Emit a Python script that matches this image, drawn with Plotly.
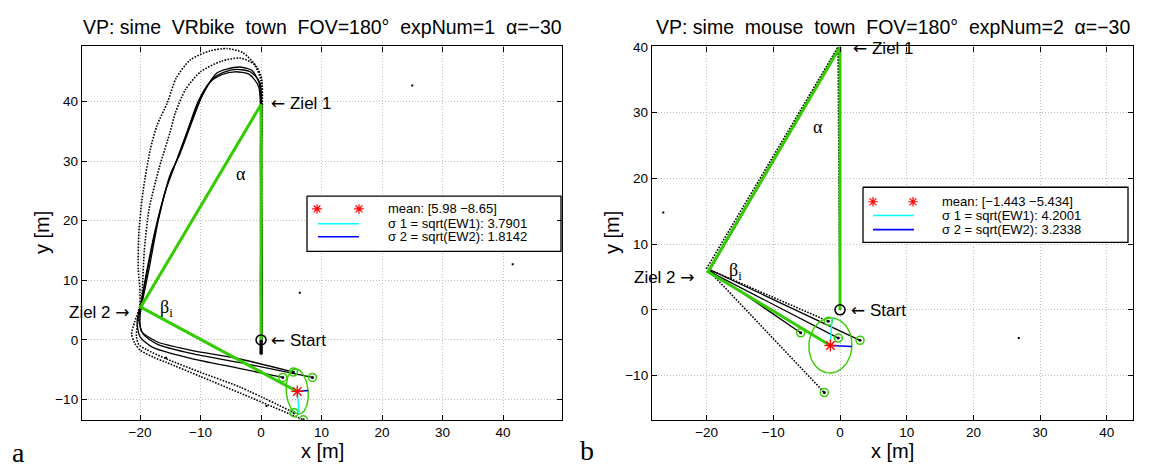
import numpy as np
import plotly.graph_objects as go

W, H = 1152, 467
SANS = "Liberation Sans, Arial, Helvetica, sans-serif"
SERIF = "Liberation Serif, Times New Roman, serif"
LARR = "<span style=\"font-family:'DejaVu Sans'\">←</span>"
RARR = "<span style=\"font-family:'DejaVu Sans'\">→</span>"

GREEN = "#33cc00"
CYAN = "#00ffff"
BLUE = "#0000ff"
RED = "#ff0000"

# ---------------- tick labels ----------------
x_tick_vals = [-20, -10, 0, 10, 20, 30, 40]
y_tick_vals = [-10, 0, 10, 20, 30, 40]

# ================= panel a : VRbike, expNum=1 =================
a_title = "VP: sime\u00a0 VRbike\u00a0 town\u00a0 FOV=180°\u00a0 expNum=1\u00a0 α=−30"
a_start = [0.0, 0.0]
a_ziel1 = [0.0, 39.5]
a_ziel2 = [-19.9, 5.5]
a_mean = [5.98, -8.65]
a_sigma = [3.7901, 1.8142]
a_cyan_angle = -85.0
a_blue_angle = 5.0
a_stub_x = [0.0, 0.0]
a_stub_y = [0.0, -2.4]
a_end_x = [3.6, 5.35, 8.5, 5.45, 7.0]
a_end_y = [-6.3, -5.4, -6.3, -12.2, -13.4]
a_dot_x = [6.4, 25.0, 41.6, -15.7, 0.9]
a_dot_y = [7.9, 42.7, 12.7, -3.0, -11.1]

a_t1_x = [0.0, 0.1, 0.0, 0.1, -0.7, -3.0, -5.6, -8.5, -11.7, -14.0, -15.5, -17.2, -18.3, -19.5, -20.2, -20.3,
          -20.0, -20.1, -20.9, -21.4, -20.9, -20.0, -17.8, -15.6, -10.1, -3.5, 7.0]
a_t1_y = [-2.4, 10.0, 30.0, 43.8, 45.8, 48.2, 48.9, 48.5, 47.0, 44.0, 39.8, 36.0, 32.0, 25.0, 18.0, 12.0,
          8.0, 5.5, 3.0, 1.0, -0.5, -1.7, -2.9, -3.8, -6.1, -8.9, -13.4]
a_t2_x = [0.15, 0.15, 0.1, 0.0, -1.2, -3.5, -6.5, -10.0, -12.5, -14.2, -15.0, -16.8, -18.5, -19.3, -19.6, -19.8,
          -20.4, -20.6, -20.2, -19.0, -15.6, -10.1, -3.5, 5.45]
a_t2_y = [-2.4, 10.0, 30.0, 43.5, 46.3, 47.3, 46.8, 45.0, 42.0, 38.0, 35.0, 29.0, 22.0, 15.0, 9.0, 5.8,
          2.8, 0.6, -0.8, -1.6, -3.2, -5.4, -7.9, -12.2]
a_t3_x = [0.0, -0.1, 0.1, -0.3, -1.5, -3.5, -5.5, -7.3, -9.5, -11.2, -13.5, -15.0, -17.0, -18.5, -19.5, -20.0,
          -19.8, -17.2, -11.7, -3.5, 5.35]
a_t3_y = [-2.4, 10.0, 30.0, 43.0, 45.2, 45.8, 45.5, 44.8, 41.5, 37.2, 31.0, 27.8, 20.0, 12.0, 7.0, 4.0,
          1.5, -0.3, -1.7, -3.2, -5.4]
a_t4_x = [0.1, 0.2, 0.0, -0.2, -1.8, -4.0, -6.2, -8.0, -10.0, -11.8, -13.8, -15.5, -17.3, -18.8, -19.7, -20.2,
          -19.5, -17.0, -11.0, -3.0, 8.5]
a_t4_y = [-2.4, 10.0, 30.0, 43.2, 45.0, 45.4, 44.9, 43.8, 40.5, 36.0, 30.5, 26.0, 19.0, 11.5, 6.5, 3.5,
          1.0, -0.8, -2.4, -3.9, -6.3]
a_t5_x = [-0.1, 0.0, -0.1, -0.4, -2.0, -4.3, -6.5, -8.5, -10.5, -12.2, -14.2, -15.8, -17.6, -19.0, -19.8, -20.5,
          -20.0, -18.0, -12.0, -4.0, 3.6]
a_t5_y = [-2.4, 10.0, 30.0, 42.5, 44.6, 45.0, 44.5, 43.2, 39.8, 35.0, 29.5, 25.0, 18.0, 11.0, 6.5, 3.0,
          0.5, -1.2, -3.0, -4.7, -6.3]
a_legend = ["mean: [5.98 −8.65]", "σ 1 = sqrt(EW1): 3.7901", "σ 2 = sqrt(EW2): 1.8142"]

# ================= panel b : mouse, expNum=2 =================
b_title = "VP: sime\u00a0 mouse\u00a0 town\u00a0 FOV=180°\u00a0 expNum=2\u00a0 α=−30"
b_start = [0.0, 0.0]
b_ziel1 = [0.0, 40.0]
b_ziel2 = [-19.8, 5.8]
b_mean = [-1.443, -5.434]
b_sigma = [4.2001, 3.2338]
b_cyan_angle = 87.0
b_blue_angle = -3.0
b_end_x = [-5.9, -1.75, -0.25, 3.0, -2.35]
b_end_y = [-3.5, -1.75, -4.3, -4.65, -12.6]
b_dot_x = [26.8, -26.5]
b_dot_y = [-4.3, 14.8]

b_t1_x = [0.0, 0.0, -19.6, -5.9]
b_t1_y = [0.0, 40.0, 6.0, -3.5]
b_t2_x = [0.0, -0.3, -20.0, -1.75]
b_t2_y = [0.0, 40.0, 6.3, -1.75]
b_t3_x = [0.0, 0.0, -19.7, -0.25]
b_t3_y = [0.0, 40.0, 5.9, -4.3]
b_t4_x = [0.0, 0.0, -19.5, 3.0]
b_t4_y = [0.0, 40.0, 6.1, -4.65]
b_t5_x = [0.0, -0.2, -19.7, -2.35]
b_t5_y = [0.0, 40.0, 6.0, -12.6]
b_legend = ["mean: [−1.443 −5.434]", "σ 1 = sqrt(EW1): 4.2001", "σ 2 = sqrt(EW2): 3.2338"]

# ---------------- layout geometry (pixels) ----------------
PANELS = {
    "a": dict(left=82, right=562, top=40, bottom=419, xr=[-29.6, 49.75], yr=[-13.39, 49.26],
              xa="x", ya="y"),
    "b": dict(left=652, right=1133, top=40, bottom=419, xr=[-28.19, 43.93], yr=[-16.73, 40.09],
              xa="x2", ya="y2"),
}


def px2x(p, px):
    g = PANELS[p]
    return g["xr"][0] + (px - g["left"]) / (g["right"] - g["left"]) * (g["xr"][1] - g["xr"][0])


def px2y(p, py):
    g = PANELS[p]
    return g["yr"][1] - (py - g["top"]) / (g["bottom"] - g["top"]) * (g["yr"][1] - g["yr"][0])


fig = go.Figure()


def add(p, **kw):
    g = PANELS[p]
    fig.add_trace(go.Scatter(xaxis=g["xa"], yaxis=g["ya"], showlegend=False, hoverinfo="skip", **kw))


def traj(p, xs, ys, dotted, shape):
    add(p, x=xs, y=ys, mode="lines",
        line=dict(color="black", width=1.6 if dotted else 1.3,
                  dash="1.6px,1.4px" if dotted else "solid", shape=shape,
                  smoothing=0.7 if shape == "spline" else None))


def ellipse_and_axes(p, mean, sigma, cyan_angle, blue_angle):
    t = np.linspace(0, 2 * np.pi, 200)
    phi = np.deg2rad(blue_angle)
    ex = mean[0] + sigma[1] * np.cos(t) * np.cos(phi) - sigma[0] * np.sin(t) * np.sin(phi)
    ey = mean[1] + sigma[1] * np.cos(t) * np.sin(phi) + sigma[0] * np.sin(t) * np.cos(phi)
    add(p, x=ex, y=ey, mode="lines", line=dict(color=GREEN, width=1.4))
    ca = np.deg2rad(cyan_angle)
    add(p, x=[mean[0], mean[0] + sigma[0] * np.cos(ca)], y=[mean[1], mean[1] + sigma[0] * np.sin(ca)],
        mode="lines", line=dict(color=CYAN, width=1.5))
    add(p, x=[mean[0], mean[0] + sigma[1] * np.cos(phi)], y=[mean[1], mean[1] + sigma[1] * np.sin(phi)],
        mode="lines", line=dict(color=BLUE, width=1.5))


def common(p, start, ziel1, ziel2, mean, sigma, cyan_angle, blue_angle, end_x, end_y, dot_x, dot_y):
    add(p, x=[start[0], ziel1[0], ziel2[0], mean[0]], y=[start[1], ziel1[1], ziel2[1], mean[1]],
        mode="lines", line=dict(color=GREEN, width=3))
    add(p, x=end_x, y=end_y, mode="markers",
        marker=dict(symbol="circle-open", size=8, color=GREEN, line=dict(color=GREEN, width=1.5)))
    add(p, x=end_x, y=end_y, mode="markers", marker=dict(symbol="circle", size=3, color="black"))
    ellipse_and_axes(p, mean, sigma, cyan_angle, blue_angle)
    add(p, x=[mean[0]], y=[mean[1]], mode="markers",
        marker=dict(symbol="asterisk-open", size=10, color=RED, line=dict(color=RED, width=1.3)))
    add(p, x=[start[0]], y=[start[1]], mode="markers",
        marker=dict(symbol="circle-open", size=10, color="black", line=dict(color="black", width=1.6)))
    add(p, x=dot_x, y=dot_y, mode="markers", marker=dict(symbol="square", size=2, color="black"))


def legend(p, box, ast_x, line_x, rows_y, text_x, texts):
    x0, y0, x1, y1 = box
    add(p, x=[px2x(p, x0), px2x(p, x1), px2x(p, x1), px2x(p, x0), px2x(p, x0)],
        y=[px2y(p, y0), px2y(p, y0), px2y(p, y1), px2y(p, y1), px2y(p, y0)],
        mode="lines", fill="toself", fillcolor="white", line=dict(color="black", width=1.3))
    add(p, x=[px2x(p, v) for v in ast_x], y=[px2y(p, rows_y[0])] * 2, mode="markers",
        marker=dict(symbol="asterisk-open", size=8, color=RED, line=dict(color=RED, width=1.2)))
    add(p, x=[px2x(p, v) for v in line_x], y=[px2y(p, rows_y[1])] * 2, mode="lines",
        line=dict(color=CYAN, width=1.6))
    add(p, x=[px2x(p, v) for v in line_x], y=[px2y(p, rows_y[2])] * 2, mode="lines",
        line=dict(color=BLUE, width=1.6))
    for ty, txt in zip(rows_y, texts):
        fig.add_annotation(xref="paper", yref="paper", x=text_x / W, y=1 - ty / H, text=txt,
                           xanchor="left", yanchor="middle", showarrow=False,
                           font=dict(family=SANS, size=13, color="black"))


# ---- panel a ----
for xs, ys, dotted in [(a_t1_x, a_t1_y, True), (a_t2_x, a_t2_y, True), (a_t3_x, a_t3_y, False),
                       (a_t4_x, a_t4_y, False), (a_t5_x, a_t5_y, False)]:
    traj("a", xs, ys, dotted, "spline")
add("a", x=a_stub_x, y=a_stub_y, mode="lines", line=dict(color="black", width=3))
common("a", a_start, a_ziel1, a_ziel2, a_mean, a_sigma, a_cyan_angle, a_blue_angle,
       a_end_x, a_end_y, a_dot_x, a_dot_y)
legend("a", (307, 192, 561, 248), (317, 359), (318, 359), (205, 220, 233.3), 386, a_legend)

# ---- panel b ----
for xs, ys, dotted in [(b_t1_x, b_t1_y, False), (b_t2_x, b_t2_y, True), (b_t3_x, b_t3_y, False),
                       (b_t4_x, b_t4_y, False), (b_t5_x, b_t5_y, True)]:
    traj("b", xs, ys, dotted, "linear")
common("b", b_start, b_ziel1, b_ziel2, b_mean, b_sigma, b_cyan_angle, b_blue_angle,
       b_end_x, b_end_y, b_dot_x, b_dot_y)
legend("b", (863, 183, 1128, 239), (873, 913), (873, 914), (197.7, 211.7, 226), 940, b_legend)


# ---- text labels in data coordinates ----
def label(p, x, y, txt, anchor, size=17, family=SANS):
    g = PANELS[p]
    fig.add_annotation(xref=g["xa"], yref=g["ya"], x=x, y=y, text=txt, xanchor=anchor, yanchor="middle",
                       showarrow=False, font=dict(family=family, size=size, color="black"))


label("a", 1.3, a_ziel1[1] + 0.3, LARR + " Ziel 1", "left")
label("a", -21.4, a_ziel2[1] - 0.8, "Ziel 2 " + RARR, "right")
label("a", 1.3, a_start[1], LARR + " Start", "left")
label("a", -3.3, 27.8, "α", "center", 18, SERIF)
label("a", -17.1, 5.3, "β<sub>i</sub>", "left", 18, SERIF)

label("b", 1.6, b_ziel1[1] - 0.2, LARR + " Ziel 1", "left")
label("b", -21.4, b_ziel2[1] - 0.8, "Ziel 2 " + RARR, "right")
label("b", 1.3, b_start[1], LARR + " Start", "left")
label("b", -3.25, 27.8, "α", "center", 18, SERIF)
label("b", -17.0, 5.9, "β<sub>i</sub>", "left", 18, SERIF)


# ---- titles, axis titles, panel letters (pixel placed) ----
def ptext(px, py, txt, size, family=SANS, angle=0, xanchor="center"):
    fig.add_annotation(xref="paper", yref="paper", x=px / W, y=1 - py / H, text=txt, xanchor=xanchor,
                       yanchor="middle", showarrow=False, textangle=angle,
                       font=dict(family=family, size=size, color="black"))


for p, title in (("a", a_title), ("b", b_title)):
    g = PANELS[p]
    cx = (g["left"] + g["right"]) / 2
    ptext(cx, 20, title, 19.5)
    ptext(cx, 451, "x [m]", 20)
    ptext(g["left"] - 40, (g["top"] + g["bottom"]) / 2, "y [m]", 20, angle=-90)

ptext(18, 452, "a", 28, SERIF)
ptext(587, 450, "b", 28, SERIF)


# ---- axes ----
def axis_style(vals, rng, domain, anchor):
    return dict(range=rng, domain=domain, anchor=anchor, tickvals=vals, ticks="inside", ticklen=5,
                tickwidth=1, tickcolor="black", showline=True, linecolor="black", linewidth=1.3,
                mirror="ticks", showgrid=True, gridcolor="#bdbdbd", griddash="1px,2px", gridwidth=1,
                zeroline=False, tickfont=dict(family=SANS, size=13.5, color="black"), fixedrange=True)


layout = dict(width=W, height=H, margin=dict(l=0, r=0, t=0, b=0), paper_bgcolor="white",
              plot_bgcolor="white", showlegend=False)
for p, (xk, yk) in (("a", ("xaxis", "yaxis")), ("b", ("xaxis2", "yaxis2"))):
    g = PANELS[p]
    xd = [g["left"] / W, g["right"] / W]
    yd = [1 - g["bottom"] / H, 1 - g["top"] / H]
    layout[xk] = axis_style(x_tick_vals, g["xr"], xd, g["ya"])
    layout[yk] = axis_style(y_tick_vals, g["yr"], yd, g["xa"])
fig.update_layout(**layout)

fig.write_html("out.html", config={"displayModeBar": False},
               post_script="document.body.style.margin='0';document.body.style.overflow='hidden';")
